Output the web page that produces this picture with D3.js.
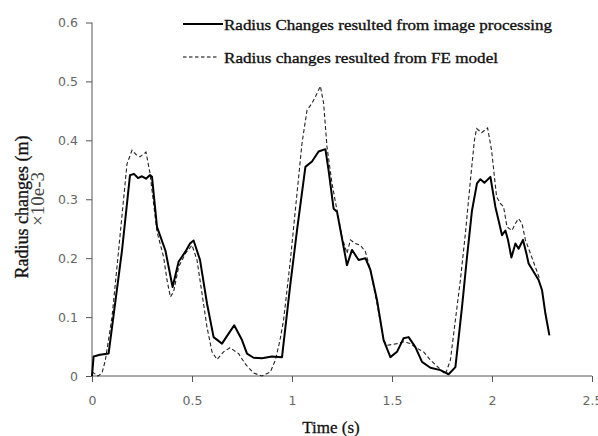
<!DOCTYPE html>
<html>
<head>
<meta charset="utf-8">
<script src="https://cdn.jsdelivr.net/npm/d3@7"></script>
<style>
  body { margin: 0; background: #fff; }
  .tick text { font-family: "DejaVu Sans", sans-serif; font-size: 12.5px; fill: #666; }
  .domain, .tick line { stroke: #555; }
</style>
</head>
<body>
<div id="main"></div>
<script>
// radius change from image processing (solid)
const imgTime = [0, 0.008, 0.04, 0.083, 0.15, 0.19, 0.21, 0.23, 0.25, 0.27, 0.29, 0.30, 0.325, 0.367, 0.403, 0.433, 0.467, 0.49, 0.508, 0.54, 0.575, 0.608, 0.65, 0.683, 0.711, 0.75, 0.775, 0.808, 0.85, 0.9, 0.95, 0.99, 1.025, 1.067, 1.1, 1.133, 1.167, 1.183, 1.208, 1.225, 1.275, 1.3, 1.333, 1.367, 1.392, 1.425, 1.458, 1.492, 1.525, 1.558, 1.583, 1.617, 1.65, 1.692, 1.742, 1.783, 1.817, 1.85, 1.875, 1.9, 1.925, 1.942, 1.962, 1.992, 2.017, 2.033, 2.05, 2.067, 2.08, 2.097, 2.117, 2.133, 2.155, 2.172, 2.183, 2.208, 2.233, 2.25, 2.267, 2.287];
const imgRadius = [0, 0.033, 0.036, 0.038, 0.213, 0.341, 0.343, 0.336, 0.339, 0.335, 0.341, 0.338, 0.253, 0.213, 0.151, 0.194, 0.211, 0.225, 0.230, 0.197, 0.123, 0.066, 0.055, 0.072, 0.086, 0.061, 0.038, 0.031, 0.030, 0.033, 0.032, 0.151, 0.247, 0.355, 0.364, 0.381, 0.385, 0.349, 0.284, 0.279, 0.188, 0.214, 0.197, 0.200, 0.180, 0.129, 0.061, 0.032, 0.041, 0.064, 0.066, 0.049, 0.024, 0.014, 0.010, 0.003, 0.015, 0.117, 0.202, 0.281, 0.327, 0.334, 0.328, 0.338, 0.287, 0.264, 0.239, 0.247, 0.231, 0.201, 0.225, 0.216, 0.231, 0.208, 0.191, 0.177, 0.163, 0.146, 0.106, 0.069];

// radius change from FE model (dashed)
const feTime = [0, 0.03, 0.05, 0.067, 0.1, 0.133, 0.175, 0.2, 0.22, 0.24, 0.27, 0.29, 0.31, 0.325, 0.358, 0.375, 0.392, 0.408, 0.433, 0.467, 0.5, 0.525, 0.55, 0.575, 0.6, 0.625, 0.658, 0.69, 0.733, 0.767, 0.808, 0.85, 0.892, 0.917, 0.94, 0.958, 0.992, 1.025, 1.05, 1.075, 1.1, 1.117, 1.142, 1.158, 1.175, 1.2, 1.225, 1.25, 1.275, 1.292, 1.317, 1.342, 1.367, 1.392, 1.425, 1.458, 1.475, 1.525, 1.558, 1.592, 1.625, 1.658, 1.692, 1.733, 1.767, 1.792, 1.817, 1.842, 1.867, 1.892, 1.912, 1.923, 1.948, 1.978, 1.998, 2.023, 2.042, 2.058, 2.075, 2.1, 2.117, 2.133, 2.15, 2.167, 2.192, 2.217, 2.238];
const feRadius = [0.007, 0, 0.005, 0.027, 0.1, 0.213, 0.36, 0.383, 0.376, 0.372, 0.38, 0.344, 0.287, 0.245, 0.202, 0.163, 0.134, 0.143, 0.185, 0.208, 0.222, 0.197, 0.14, 0.083, 0.041, 0.028, 0.041, 0.048, 0.038, 0.02, 0.005, 0, 0.007, 0.027, 0.061, 0.095, 0.197, 0.31, 0.395, 0.451, 0.463, 0.474, 0.492, 0.463, 0.389, 0.327, 0.281, 0.236, 0.208, 0.231, 0.225, 0.222, 0.211, 0.18, 0.123, 0.061, 0.052, 0.055, 0.058, 0.055, 0.047, 0.041, 0.027, 0.014, 0.003, 0.027, 0.095, 0.163, 0.242, 0.332, 0.40, 0.42, 0.413, 0.421, 0.383, 0.304, 0.293, 0.287, 0.253, 0.247, 0.259, 0.267, 0.259, 0.231, 0.208, 0.185, 0.165];

const xTicks = [0, 0.5, 1, 1.5, 2, 2.5];
const yTicks = [0, 0.1, 0.2, 0.3, 0.4, 0.5, 0.6];
const seriesNames = ['Radius Changes resulted from image processing', 'Radius changes resulted from FE model'];

const margin = { top: 22.5, right: 6, bottom: 60, left: 92 };
const height = 436 - margin.top - margin.bottom;

const svg = d3.select('#main').append('svg')
  .attr('width', 598)
  .attr('height', 436);

const g = svg.append('g')
  .attr('transform', 'translate(' + margin.left + ',' + margin.top + ')');

const x = d3.scaleLinear().domain([0, 2.5]).range([0, 500]);
const y = d3.scaleLinear().domain([0, 0.6]).range([height, 0]);

g.append('g')
  .attr('transform', 'translate(0,' + height + ')')
  .call(d3.axisBottom(x).tickValues(xTicks).tickSize(6).tickPadding(14)
    .tickFormat(d3.format('')))
  .select('.domain').attr('d', 'M0,0H500');

g.append('g')
  .call(d3.axisLeft(y).tickValues(yTicks).tickSize(6).tickPadding(8)
    .tickFormat(d => d === 0 ? '0' : d3.format('.1f')(d)))
  .select('.domain').attr('d', 'M0,' + height + 'V0');

const line = d3.line()
  .x(d => x(d[0]))
  .y(d => y(d[1]));

const imgData = imgTime.map((t, i) => [t, imgRadius[i]]);
const feData = feTime.map((t, i) => [t, feRadius[i]]);

g.append('path')
  .datum(feData)
  .attr('fill', 'none')
  .attr('stroke', '#222')
  .attr('stroke-width', 1.1)
  .attr('stroke-dasharray', '4,2.5')
  .attr('d', line);

g.append('path')
  .datum(imgData)
  .attr('fill', 'none')
  .attr('stroke', '#000')
  .attr('stroke-width', 2)
  .attr('stroke-linejoin', 'round')
  .attr('d', line);

// legend
const legend = svg.append('g').attr('transform', 'translate(183,24)');
const rows = legend.selectAll('g').data(seriesNames).enter().append('g')
  .attr('transform', (d, i) => 'translate(0,' + (i * 33) + ')');
rows.append('line')
  .attr('x1', 0).attr('x2', (d, i) => i === 0 ? 40 : 36)
  .attr('stroke', '#000')
  .attr('stroke-width', (d, i) => i === 0 ? 2 : 1.1)
  .attr('stroke-dasharray', (d, i) => i === 0 ? null : '3.5,2.5');
rows.append('text')
  .attr('x', 41).attr('y', 5.5)
  .attr('font-family', '"Liberation Serif", serif')
  .attr('font-size', 15.5)
  .attr('fill', '#111')
  .attr('stroke', '#111')
  .attr('stroke-width', 0.35)
  .attr('textLength', (d, i) => i === 0 ? 328 : 274)
  .attr('lengthAdjust', 'spacingAndGlyphs')
  .text(d => d);

// axis titles
svg.append('text')
  .attr('x', 331).attr('y', 433)
  .attr('text-anchor', 'middle')
  .attr('font-family', '"Liberation Serif", serif')
  .attr('font-size', 17)
  .attr('fill', '#111')
  .attr('stroke', '#111')
  .attr('stroke-width', 0.3)
  .text('Time (s)');

svg.append('text')
  .attr('transform', 'translate(28,207) rotate(-90)')
  .attr('text-anchor', 'middle')
  .attr('font-family', '"Liberation Serif", serif')
  .attr('font-size', 18)
  .attr('fill', '#111')
  .attr('stroke', '#111')
  .attr('stroke-width', 0.3)
  .text('Radius changes (m)');

svg.append('text')
  .attr('transform', 'translate(44,199) rotate(-90)')
  .attr('text-anchor', 'middle')
  .attr('font-family', '"Liberation Serif", serif')
  .attr('font-size', 19)
  .attr('fill', '#444')
  .text('×10e-3');
</script>
</body>
</html>
